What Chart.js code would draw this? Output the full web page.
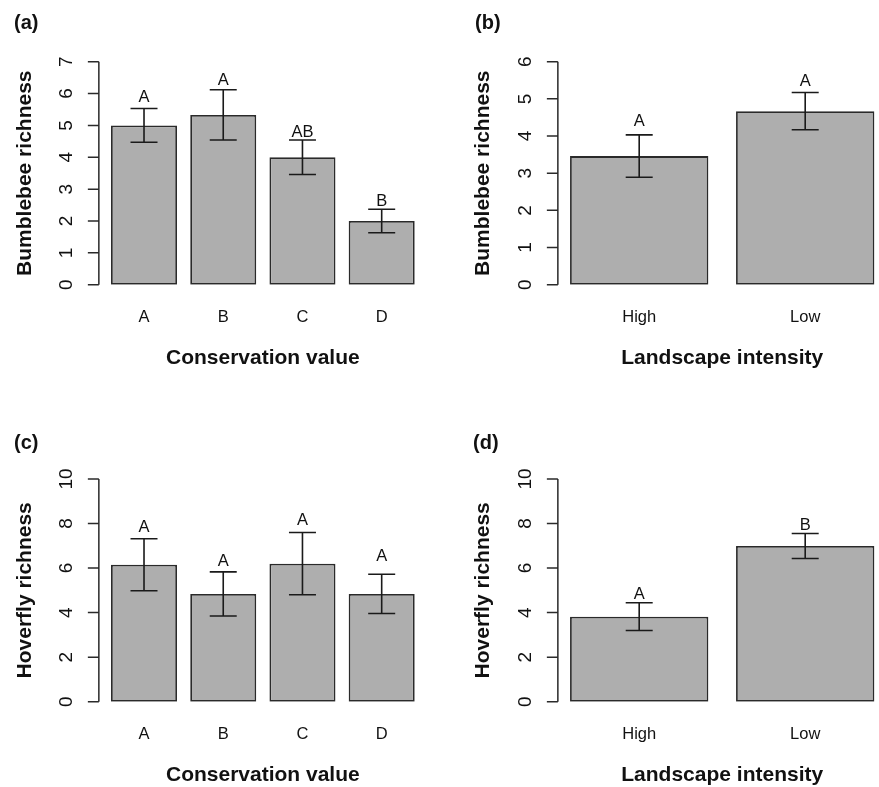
<!DOCTYPE html>
<html>
<head>
<meta charset="utf-8">
<script src="https://cdn.jsdelivr.net/npm/chart.js@4.4.0/dist/chart.umd.min.js"></script>
<style>
html, body { margin: 0; padding: 0; overflow: hidden; background: #fff; }
canvas { position: absolute; left: 0; top: 0; }
</style>
</head>
<body>
<canvas id="pa" width="900" height="787"></canvas>
<canvas id="pb" width="900" height="787"></canvas>
<canvas id="pc" width="900" height="787"></canvas>
<canvas id="pd" width="900" height="787"></canvas>
<script>
// categories
var consCats = ["A", "B", "C", "D"];
var landCats = ["High", "Low"];

// (a) bumblebee richness by conservation value
var beeCons = [5.0, 5.33, 4.0, 2.0];
var beeConsSE = [0.53, 0.79, 0.54, 0.37];
var beeConsLetters = ["A", "A", "AB", "B"];
var beeConsLetterY = [5.74, 6.27, 4.65, 2.48];

// (b) bumblebee richness by landscape intensity
var beeLand = [3.46, 4.67];
var beeLandSE = [0.57, 0.50];
var beeLandLetters = ["A", "A"];
var beeLandLetterY = [4.28, 5.35];

// (c) hoverfly richness by conservation value
var hovCons = [6.15, 4.84, 6.20, 4.84];
var hovConsSE = [1.17, 0.99, 1.40, 0.88];
var hovConsLetters = ["A", "A", "A", "A"];
var hovConsLetterY = [7.63, 6.11, 7.93, 6.33];

// (d) hoverfly richness by landscape intensity
var hovLand = [3.82, 6.99];
var hovLandSE = [0.62, 0.56];
var hovLandLetters = ["A", "B"];
var hovLandLetterY = [4.61, 7.71];

// y tick labels
var ticks7 = [0, 1, 2, 3, 4, 5, 6, 7];
var ticks6 = [0, 1, 2, 3, 4, 5, 6];
var ticks10 = [0, 2, 4, 6, 8, 10];

var FONT = "'Liberation Sans', Arial, sans-serif";
var INK = "#111";
Chart.defaults.font.family = FONT;
Chart.defaults.color = INK;

var CW = 900, CH = 787, XH = 84;

// R-like extras: axis, rotated ticks, error bars, letters, panel tag
var rStyle = {
  id: "rStyle",
  afterDatasetsDraw: function(chart, args, o) {
    var ctx = chart.ctx, y = chart.scales.y, area = chart.chartArea;
    var meta = chart.getDatasetMeta(0);
    var n = meta.data.length;
    var pitch = (area.right - area.left) / n, w = pitch / 1.2;
    var ax = area.left + w * (0.1 - 0.04 * (1.2 * n - 0.2));
    ctx.save();
    // y axis
    ctx.strokeStyle = "#2a2a2a";
    ctx.lineWidth = 1.5;
    ctx.beginPath();
    ctx.moveTo(ax, y.getPixelForValue(0));
    ctx.lineTo(ax, y.getPixelForValue(o.ticks[o.ticks.length - 1]));
    o.ticks.forEach(function(t) {
      var py = y.getPixelForValue(t);
      ctx.moveTo(ax - 11, py);
      ctx.lineTo(ax, py);
    });
    ctx.stroke();
    ctx.fillStyle = INK;
    ctx.font = "19px " + FONT;
    ctx.textAlign = "center";
    ctx.textBaseline = "middle";
    o.ticks.forEach(function(t) {
      ctx.save();
      ctx.translate(ax - 32, y.getPixelForValue(t));
      ctx.rotate(-Math.PI / 2);
      ctx.fillText(String(t), 0, 0);
      ctx.restore();
    });
    // error bars
    ctx.strokeStyle = "#1a1a1a";
    ctx.lineWidth = 1.6;
    meta.data.forEach(function(bar, i) {
      var v = o.vals[i], s = o.se[i];
      var hi = y.getPixelForValue(v + s), lo = y.getPixelForValue(v - s);
      ctx.beginPath();
      ctx.moveTo(bar.x, hi); ctx.lineTo(bar.x, lo);
      ctx.moveTo(bar.x - 13.5, hi); ctx.lineTo(bar.x + 13.5, hi);
      ctx.moveTo(bar.x - 13.5, lo); ctx.lineTo(bar.x + 13.5, lo);
      ctx.stroke();
    });
    // letters
    ctx.font = "16.5px " + FONT;
    ctx.textBaseline = "alphabetic";
    meta.data.forEach(function(bar, i) {
      ctx.fillText(o.letters[i], bar.x, y.getPixelForValue(o.letterY[i]));
    });
    // panel tag
    ctx.font = "bold 20px " + FONT;
    ctx.textAlign = "left";
    ctx.textBaseline = "middle";
    ctx.fillText(o.tag, o.tagX, o.tagY);
    ctx.restore();
  }
};

function panel(id, p) {
  var padLeft = p.titleX - 10.5;
  return new Chart(document.getElementById(id), {
    type: "bar",
    data: {
      labels: p.cats,
      datasets: [{
        data: p.vals,
        backgroundColor: "#aeaeae",
        borderColor: "#2a2a2a",
        borderWidth: 1.8,
        borderSkipped: false,
        categoryPercentage: 1,
        barPercentage: 1 / 1.2
      }]
    },
    options: {
      responsive: false,
      animation: false,
      events: [],
      layout: {
        padding: {
          left: padLeft,
          right: CW - p.right,
          top: p.top,
          bottom: CH - p.bottom - XH
        }
      },
      plugins: {
        legend: { display: false },
        tooltip: { enabled: false },
        rStyle: {
          ticks: p.ticks, vals: p.vals, se: p.se,
          letters: p.letters, letterY: p.letterY,
          tag: p.tag, tagX: p.tagX, tagY: p.tagY
        }
      },
      scales: {
        x: {
          grid: { display: false, drawTicks: false },
          border: { display: false },
          ticks: { font: { size: 16.5 }, padding: 22.9, color: INK },
          title: { display: true, text: p.xtitle, padding: 0, color: INK,
                   font: { size: 21, weight: "bold", lineHeight: 1 } },
          afterFit: function(s) { s.height = XH; }
        },
        y: {
          min: 0,
          max: p.ticks[p.ticks.length - 1],
          grid: { display: false, drawTicks: false },
          border: { display: false },
          ticks: { display: false },
          title: { display: true, text: p.ytitle, padding: 0, color: INK,
                   font: { size: 21, weight: "bold", lineHeight: 1 } },
          afterFit: function(s) { s.width = p.left - padLeft; }
        }
      }
    },
    plugins: [rStyle]
  });
}

panel("pa", { cats: consCats, vals: beeCons, se: beeConsSE, letters: beeConsLetters, letterY: beeConsLetterY,
  ticks: ticks7, ytitle: "Bumblebee richness", xtitle: "Conservation value",
  left: 104.4, right: 421.3, top: 61.7, bottom: 284.7, titleX: 25, tag: "(a)", tagX: 14, tagY: 23 });
panel("pb", { cats: landCats, vals: beeLand, se: beeLandSE, letters: beeLandLetters, letterY: beeLandLetterY,
  ticks: ticks6, ytitle: "Bumblebee richness", xtitle: "Landscape intensity",
  left: 556.2, right: 888.2, top: 61.7, bottom: 284.7, titleX: 483.7, tag: "(b)", tagX: 475, tagY: 23 });
panel("pc", { cats: consCats, vals: hovCons, se: hovConsSE, letters: hovConsLetters, letterY: hovConsLetterY,
  ticks: ticks10, ytitle: "Hoverfly richness", xtitle: "Conservation value",
  left: 104.4, right: 421.3, top: 479, bottom: 701.7, titleX: 25, tag: "(c)", tagX: 14, tagY: 443 });
panel("pd", { cats: landCats, vals: hovLand, se: hovLandSE, letters: hovLandLetters, letterY: hovLandLetterY,
  ticks: ticks10, ytitle: "Hoverfly richness", xtitle: "Landscape intensity",
  left: 556.2, right: 888.2, top: 479, bottom: 701.7, titleX: 483.7, tag: "(d)", tagX: 473, tagY: 443 });
</script>
</body>
</html>
